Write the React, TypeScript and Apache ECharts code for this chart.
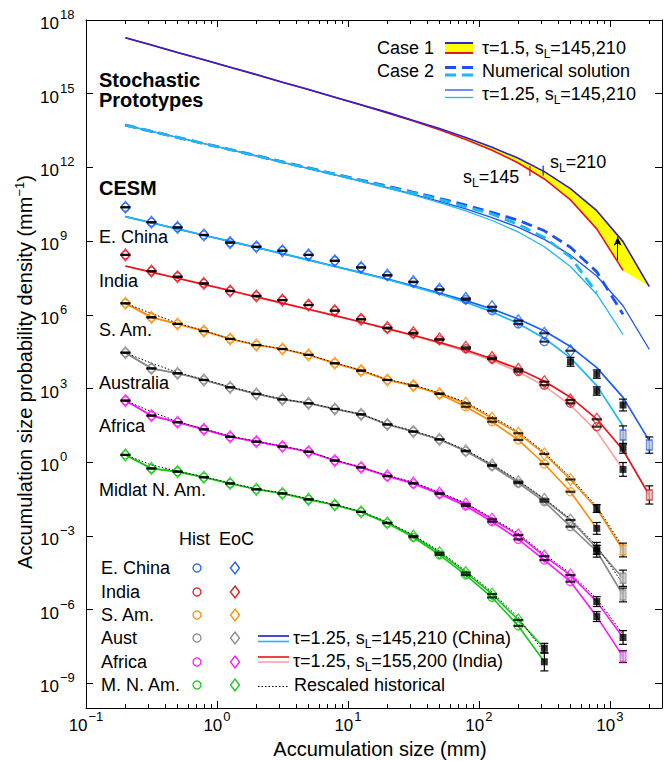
import React, { useEffect, useRef } from "react";
import * as echarts from "echarts";

const FONT = "'Liberation Sans', Arial, Helvetica, sans-serif";

// ---------------- data (densities stored as log10 values) ----------------
const binCenters = [0.2, 0.316, 0.5, 0.794, 1.26, 2, 3.16, 5, 7.94, 12.6, 20, 31.6, 50, 79.4, 126, 200, 316, 500, 794, 1260, 2000];

const xMajorTicks = [0.1, 1, 10, 100, 1000];
const xMinorTicks = [0.2, 0.3, 0.4, 0.5, 0.6, 0.7, 0.8, 0.9, 2, 3, 4, 5, 6, 7, 8, 9, 20, 30, 40, 50, 60, 70, 80, 90, 200, 300, 400, 500, 600, 700, 800, 900, 2000];
const yMajorTicks = [1e-9, 1e-6, 1e-3, 1, 1e3, 1e6, 1e9, 1e12, 1e15, 1e18];

// Stochastic prototypes
const case1_sL210 = [17.28, 16.98, 16.68, 16.38, 16.08, 15.78, 15.47, 15.17, 14.86, 14.55, 14.24, 13.91, 13.58, 13.22, 12.82, 12.37, 11.83, 11.14, 10.24, 8.98, 7.15];
const case1_sL145 = [17.28, 16.98, 16.68, 16.38, 16.08, 15.77, 15.47, 15.17, 14.86, 14.54, 14.22, 13.89, 13.53, 13.14, 12.70, 12.18, 11.53, 10.68, 9.50, 7.81];
const numerical_sL210 = [13.72, 13.47, 13.22, 12.97, 12.73, 12.48, 12.23, 11.98, 11.73, 11.48, 11.24, 10.99, 10.74, 10.47, 10.17, 9.85, 9.42, 8.75, 7.75, 6.02];
const numerical_sL145 = [13.72, 13.47, 13.22, 12.97, 12.72, 12.47, 12.22, 11.97, 11.72, 11.46, 11.21, 10.96, 10.70, 10.40, 10.10, 9.68, 9.15, 8.35, 6.90];
const tau125_sL210 = [13.72, 13.47, 13.22, 12.97, 12.72, 12.47, 12.21, 11.96, 11.70, 11.44, 11.18, 10.90, 10.62, 10.31, 9.96, 9.56, 9.07, 8.43, 7.58, 6.37, 4.59];
const tau125_sL145 = [13.72, 13.47, 13.22, 12.97, 12.72, 12.46, 12.21, 11.95, 11.70, 11.43, 11.16, 10.88, 10.57, 10.23, 9.84, 9.37, 8.77, 7.97, 6.84, 5.20];
const sLMarks = [
  { x: 245, v: 11.85, which: "145" },
  { x: 310, v: 11.87, which: "210" },
];
const arrowX = 1146;
const arrowFrom = 8.23;
const arrowTo = 9.18;

// CESM: E. China
const chinaEoC = [10.38, 9.77, 9.56, 9.25, 8.94, 8.77, 8.61, 8.44, 8.20, 7.93, 7.62, 7.35, 7.04, 6.67, 6.33, 5.76, 5.25, 4.54];
const chinaHist = [10.38, 9.77, 9.56, 9.25, 8.94, 8.77, 8.61, 8.44, 8.20, 7.93, 7.60, 7.33, 7.02, 6.62, 6.17, 5.63, 4.91];
const chinaTail: any[] = [
  [500, 4.09, 0.18, "hist", "filled"],
  [794, 3.59, 0.17, "eoc", "filled"],
  [794, 2.90, 0.17, "hist", "filled"],
  [1260, 2.33, 0.24, "eoc", "filled"],
  [1260, 1.11, 0.37, "hist", "open"],
  [2000, 0.70, 0.33, "eoc", "open"],
];
const chinaFit210 = [10.00, 9.75, 9.50, 9.24, 8.99, 8.74, 8.49, 8.24, 7.98, 7.72, 7.46, 7.18, 6.89, 6.58, 6.24, 5.83, 5.34, 4.71, 3.85, 2.64, 0.87];
const chinaFit145 = [10.00, 9.75, 9.49, 9.24, 8.99, 8.74, 8.49, 8.23, 7.97, 7.71, 7.44, 7.15, 6.85, 6.51, 6.12, 5.65, 5.05, 4.25, 3.12, 1.48];

// India
const indiaEoC = [8.44, 7.78, 7.55, 7.28, 6.97, 6.77, 6.60, 6.40, 6.17, 5.82, 5.48, 5.27, 5.02, 4.68, 4.26, 3.78, 3.28, 2.53, 1.75];
const indiaHist = [8.44, 7.78, 7.55, 7.28, 6.97, 6.77, 6.60, 6.40, 6.17, 5.82, 5.46, 5.24, 4.98, 4.62, 4.20, 3.69, 3.14, 2.40, 1.45];
const indiaTail: any[] = [
  [1260, 0.57, 0.2, "eoc", "filled"],
  [1260, -0.29, 0.28, "hist", "filled"],
  [2000, -1.33, 0.37, "eoc", "open"],
];
const indiaFit200 = [7.99, 7.74, 7.49, 7.24, 6.99, 6.73, 6.48, 6.23, 5.97, 5.71, 5.44, 5.17, 4.88, 4.57, 4.21, 3.80, 3.30, 2.65, 1.76, 0.50, -1.34];
const indiaFit155 = [7.99, 7.74, 7.49, 7.24, 6.98, 6.73, 6.48, 6.22, 5.97, 5.70, 5.43, 5.15, 4.85, 4.52, 4.14, 3.68, 3.10, 2.33, 1.26, -0.29];

// S. Am.
const samEoC = [6.47, 5.90, 5.63, 5.34, 5.02, 4.77, 4.61, 4.37, 4.03, 3.73, 3.35, 3.12, 2.80, 2.40, 1.79, 1.18, 0.34, -0.70];
const samHist = [6.47, 5.90, 5.63, 5.34, 5.02, 4.77, 4.61, 4.37, 4.03, 3.73, 3.35, 3.12, 2.78, 2.26, 1.65, 0.91, -0.07, -1.20];
const samTail: any[] = [
  [794, -1.88, 0.16, "eoc", "filled"],
  [794, -2.69, 0.24, "hist", "filled"],
  [1260, -3.57, 0.28, "eoc", "open"],
];
const samRescaled = [6.47, 6.06, 5.66, 5.36, 5.03, 4.79, 4.62, 4.38, 4.05, 3.75, 3.37, 3.14, 2.82, 2.45, 1.86, 1.24, 0.40, -0.62, -1.80, -3.45];

// Australia
const austEoC = [4.46, 3.82, 3.62, 3.35, 3.05, 2.78, 2.56, 2.40, 2.17, 1.95, 1.54, 1.25, 0.93, 0.47, -0.11, -0.79, -1.51, -2.35];
const austHist = [4.46, 3.82, 3.62, 3.35, 3.05, 2.78, 2.56, 2.40, 2.17, 1.95, 1.54, 1.25, 0.93, 0.45, -0.15, -0.85, -1.60, -2.62];
const austTail: any[] = [
  [794, -3.50, 0.24, "eoc", "filled"],
  [794, -3.62, 0.24, "hist", "filled"],
  [1260, -4.72, 0.33, "eoc", "open"],
  [1260, -5.40, 0.28, "hist", "open"],
];
const austRescaled = [4.46, 4.03, 3.66, 3.37, 3.07, 2.80, 2.57, 2.41, 2.18, 1.96, 1.56, 1.27, 0.95, 0.50, -0.08, -0.74, -1.48, -2.30, -3.40, -4.95];

// Africa
const africaEoC = [2.51, 1.90, 1.63, 1.34, 1.04, 0.84, 0.64, 0.43, 0.07, -0.21, -0.55, -0.84, -1.25, -1.70, -2.32, -2.96, -3.82, -4.59];
const africaHist = [2.51, 1.90, 1.63, 1.34, 1.04, 0.84, 0.64, 0.43, 0.07, -0.21, -0.57, -0.87, -1.29, -1.78, -2.42, -3.14, -3.98, -4.86];
const africaTail: any[] = [
  [794, -5.67, 0.2, "eoc", "filled"],
  [794, -6.28, 0.2, "hist", "filled"],
  [1260, -7.13, 0.28, "eoc", "filled"],
  [1260, -7.91, 0.24, "hist", "open"],
];
const africaRescaled = [2.51, 2.06, 1.66, 1.36, 1.06, 0.86, 0.66, 0.45, 0.09, -0.19, -0.53, -0.81, -1.22, -1.66, -2.27, -2.90, -3.75, -4.52, -5.55, -7.00];

// Midlat N. Am.
const mnamEoC = [0.30, -0.25, -0.38, -0.61, -0.86, -1.10, -1.27, -1.51, -1.74, -2.02, -2.46, -3.00, -3.68, -4.49, -5.36, -6.42];
const mnamHist = [0.30, -0.25, -0.38, -0.61, -0.86, -1.10, -1.27, -1.51, -1.74, -2.02, -2.48, -3.05, -3.77, -4.59, -5.50, -6.66];
const mnamTail: any[] = [
  [316, -7.57, 0.2, "eoc", "filled"],
  [316, -8.12, 0.37, "hist", "filled"],
];
const mnamRescaled = [0.30, -0.11, -0.36, -0.59, -0.84, -1.08, -1.25, -1.49, -1.72, -2.00, -2.43, -2.96, -3.62, -4.42, -5.28, -6.32, -7.75];

// ---------------- styling ----------------
const C_CASE1_BLUE = "#2a22cc";
const C_RED = "#e8141c";
const C_PROTO_BLUE = "#1d52ee";
const C_PROTO_CYAN = "#1fb6f2";
const C_CHINA = "#1a5cff";
const C_CHINA_L = "#1ab8f5";
const C_INDIA = "#e8141c";
const C_INDIA_L = "#f5a5a5";
const C_SAM = "#ff8c00";
const C_AUST = "#888888";
const C_AFRICA = "#ff14ff";
const C_MNAM = "#12c812";

const p10 = (v: number) => Math.pow(10, v);
const pts = (vals: number[]) => vals.map((v, i) => [binCenters[i], p10(v)]);

const supText = (v: number) => {
  const e = Math.round(Math.log10(v));
  return `{b|10}{s|${e < 0 ? "\u2212" + -e : e}}`;
};
const tickRich = {
  b: { fontSize: 17, fontFamily: FONT, color: "#000", lineHeight: 18, verticalAlign: "bottom" },
  s: { fontSize: 13, fontFamily: FONT, color: "#000", lineHeight: 13, verticalAlign: "bottom", padding: [0, 0, 11, 1] },
};

const lineSeries = (data: any[], color: string, width: number, z: number, type: any = "solid") => ({
  type: "line",
  data,
  symbol: "none",
  showSymbol: false,
  silent: true,
  z,
  lineStyle: { color, width, type, cap: "butt" },
});

const scatterSeries = (data: any[], symbol: string, size: any, itemStyle: any, z: number) => ({
  type: "scatter",
  data,
  symbol,
  symbolSize: size,
  itemStyle,
  silent: true,
  z,
});

const hollow = (c: string) => ({ color: "rgba(255,255,255,0)", borderColor: c, borderWidth: 1.3 });

const errorBarSeries = (tail: any[]) => ({
  type: "custom",
  silent: true,
  z: 6,
  data: tail.map((t) => [t[0], p10(t[1] - t[2]), p10(t[1] + t[2])]),
  encode: { x: 0, y: [1, 2] },
  renderItem: (params: any, api: any) => {
    const x = api.value(0);
    const lo = api.coord([x, api.value(1)]);
    const hi = api.coord([x, api.value(2)]);
    const w = 4;
    const st = { stroke: "#000", lineWidth: 1.2 };
    return {
      type: "group",
      children: [
        { type: "line", shape: { x1: lo[0], y1: lo[1], x2: hi[0], y2: hi[1] }, style: st },
        { type: "line", shape: { x1: lo[0] - w, y1: lo[1], x2: lo[0] + w, y2: lo[1] }, style: st },
        { type: "line", shape: { x1: hi[0] - w, y1: hi[1], x2: hi[0] + w, y2: hi[1] }, style: st },
      ],
    };
  },
});

function buildOption() {
  const regions = [
    { color: C_CHINA, eoc: chinaEoC, hist: chinaHist, tail: chinaTail, fits: [[chinaFit210, C_CHINA], [chinaFit145, C_CHINA_L]], rescaled: null as any },
    { color: C_INDIA, eoc: indiaEoC, hist: indiaHist, tail: indiaTail, fits: [[indiaFit155, C_INDIA_L], [indiaFit200, C_INDIA]], rescaled: null as any },
    { color: C_SAM, eoc: samEoC, hist: samHist, tail: samTail, fits: null as any, rescaled: samRescaled },
    { color: C_AUST, eoc: austEoC, hist: austHist, tail: austTail, fits: null as any, rescaled: austRescaled },
    { color: C_AFRICA, eoc: africaEoC, hist: africaHist, tail: africaTail, fits: null as any, rescaled: africaRescaled },
    { color: C_MNAM, eoc: mnamEoC, hist: mnamHist, tail: mnamTail, fits: null as any, rescaled: mnamRescaled },
  ];

  const series: any[] = [];

  // yellow band between the two Case 1 curves
  series.push({
    type: "custom",
    silent: true,
    z: 1,
    data: [[binCenters[0], p10(case1_sL210[0])]],
    encode: { x: 0, y: 1 },
    renderItem: (params: any, api: any) => {
      const upper = case1_sL210.map((v, i) => api.coord([binCenters[i], p10(v)]));
      const lower = case1_sL145.map((v, i) => api.coord([binCenters[i], p10(v)])).reverse();
      return { type: "polygon", shape: { points: upper.concat(lower) }, style: { fill: "#ffff00", stroke: "none" } };
    },
  });
  series.push(lineSeries(pts(case1_sL145), C_RED, 1.6, 2));
  const case1Blue: any = lineSeries(pts(case1_sL210), C_CASE1_BLUE, 1.6, 2);
  case1Blue.markLine = {
    silent: true,
    symbol: ["none", "arrow"],
    symbolSize: [6, 9],
    label: { show: false },
    lineStyle: { color: "#000", width: 1, type: "solid" },
    data: [[{ coord: [arrowX, p10(arrowFrom)] }, { coord: [arrowX, p10(arrowTo)] }]],
  };
  series.push(case1Blue);
  sLMarks.forEach((m) =>
    series.push(scatterSeries([[m.x, p10(m.v)]], "rect", [1.6, 10], { color: m.which === "145" ? C_RED : C_CASE1_BLUE }, 3))
  );
  series.push(lineSeries(pts(tau125_sL210), C_PROTO_BLUE, 1.3, 2));
  series.push(lineSeries(pts(tau125_sL145), C_PROTO_CYAN, 1.3, 2));
  series.push(lineSeries(pts(numerical_sL210), C_PROTO_BLUE, 2.8, 2, [11, 6]));
  series.push(lineSeries(pts(numerical_sL145), C_PROTO_CYAN, 2.8, 2, [11, 6]));

  // CESM regions
  for (const r of regions) {
    const tailPts = (set: string) => r.tail.filter((t: any) => t[3] === set).map((t: any) => [t[0], p10(t[1])]);
    if (r.fits) {
      r.fits.forEach(([vals, c]: any) => series.push(lineSeries(pts(vals), c, 1.7, 3)));
    } else {
      series.push(lineSeries(pts(r.hist).concat(tailPts("hist")), r.color, 1.6, 3));
      series.push(lineSeries(pts(r.eoc).concat(tailPts("eoc")), r.color, 1.6, 3));
      series.push(lineSeries(pts(r.rescaled), "#000", 1, 3.5, [1.5, 2]));
    }
    series.push(scatterSeries(pts(r.hist), "circle", 8, hollow(r.color), 4));
    series.push(scatterSeries(pts(r.eoc), "diamond", [9, 12], hollow(r.color), 4));
    series.push(scatterSeries(pts(r.eoc).concat(pts(r.hist)), "rect", [10, 2.2], { color: "#000" }, 5));
    series.push(errorBarSeries(r.tail));
    series.push(
      scatterSeries(
        r.tail.filter((t: any) => t[4] === "filled").map((t: any) => [t[0], p10(t[1])]),
        "rect", 7, { color: "#000" }, 7
      )
    );
    series.push(
      scatterSeries(
        r.tail.filter((t: any) => t[4] === "open").map((t: any) => [t[0], p10(t[1])]),
        "rect", [6, 10], { color: "#c4c4c4", borderColor: r.color, borderWidth: 1.2 }, 7
      )
    );
  }

  const baseX = { type: "log", logBase: 10, min: 0.1, max: 2500, gridIndex: 0, splitLine: { show: false } };
  const baseY = { type: "log", logBase: 10, min: 1e-10, max: 1.00001e18, gridIndex: 0, splitLine: { show: false } };
  const axLine = { show: true, onZero: false, lineStyle: { color: "#000", width: 1 } };
  const noLine = { show: false, onZero: false };

  const xAxis = [
    {
      ...baseX, position: "bottom", axisLine: axLine,
      axisTick: { show: true, inside: true, length: 7, customValues: xMajorTicks, lineStyle: { color: "#000" } },
      axisLabel: { show: true, customValues: xMajorTicks, margin: 8, formatter: supText, rich: tickRich },
    },
    {
      ...baseX, position: "top", axisLine: axLine,
      axisTick: { show: true, inside: true, length: 7, customValues: xMajorTicks, lineStyle: { color: "#000" } },
      axisLabel: { show: false },
    },
    {
      ...baseX, position: "bottom", axisLine: noLine,
      axisTick: { show: true, inside: true, length: 4, customValues: xMinorTicks, lineStyle: { color: "#000" } },
      axisLabel: { show: false },
    },
    {
      ...baseX, position: "top", axisLine: noLine,
      axisTick: { show: true, inside: true, length: 4, customValues: xMinorTicks, lineStyle: { color: "#000" } },
      axisLabel: { show: false },
    },
  ];
  const yAxis = [
    {
      ...baseY, position: "left", axisLine: axLine,
      axisTick: { show: true, inside: true, length: 7, customValues: yMajorTicks, lineStyle: { color: "#000" } },
      axisLabel: { show: true, customValues: yMajorTicks, margin: 46, align: "left", formatter: supText, rich: tickRich, padding: [6, 0, 0, 0], showMaxLabel: true, showMinLabel: true },
    },
    {
      ...baseY, position: "right", axisLine: axLine,
      axisTick: { show: true, inside: true, length: 7, customValues: yMajorTicks, lineStyle: { color: "#000" } },
      axisLabel: { show: false },
    },
  ];

  const txt = (text: string, x: number, y: number, opts: any = {}) => ({
    type: "text",
    x,
    y,
    silent: true,
    z: 100,
    style: {
      text,
      fill: "#000",
      font: `${opts.bold ? "bold " : ""}${opts.size || 18}px ${FONT}`,
      textAlign: opts.align || "left",
      textVerticalAlign: "middle",
      rich: opts.rich,
    },
  });
  const legRich = {
    n: { fontSize: 18, fontFamily: FONT, color: "#000", lineHeight: 24, verticalAlign: "middle" },
    sub: { fontSize: 12, fontFamily: FONT, color: "#000", lineHeight: 12, verticalAlign: "bottom" },
  };
  const rtxt = (text: string, x: number, y: number) => txt(text, x, y, { rich: legRich });
  const seg = (x1: number, y1: number, x2: number, y2: number, stroke: string, lineWidth: number, lineDash?: any) => ({
    type: "line",
    silent: true,
    z: 100,
    shape: { x1, y1, x2, y2 },
    style: { stroke, lineWidth, lineDash },
  });

  const graphic: any[] = [
    // region labels
    txt("Stochastic", 99, 80, { bold: true, size: 20 }),
    txt("Prototypes", 99, 100, { bold: true, size: 20 }),
    txt("CESM", 99, 188, { bold: true, size: 20 }),
    txt("E. China", 99, 237),
    txt("India", 99, 281),
    txt("S. Am.", 99, 330),
    txt("Australia", 99, 383),
    txt("Africa", 99, 426),
    txt("Midlat N. Am.", 99, 490),
    // sL labels
    rtxt("{n|s}{sub|L}{n|=145}", 463, 177),
    rtxt("{n|s}{sub|L}{n|=210}", 550, 162),
    // top right legend
    txt("Case 1", 434, 48, { align: "right" }),
    { type: "rect", silent: true, z: 100, shape: { x: 445, y: 43, width: 28, height: 10 }, style: { fill: "#ffff00" } },
    seg(445, 43, 473, 43, C_CASE1_BLUE, 2),
    seg(445, 53, 473, 53, C_RED, 2),
    rtxt("{n|\u03c4=1.5, s}{sub|L}{n|=145,210}", 482, 48),
    txt("Case 2", 434, 71, { align: "right" }),
    seg(445, 67.5, 473, 67.5, C_PROTO_BLUE, 2.8, [11, 6]),
    seg(445, 75, 473, 75, C_PROTO_CYAN, 2.8, [11, 6]),
    txt("Numerical solution", 482, 71),
    seg(445, 90, 473, 90, C_PROTO_BLUE, 1.3),
    seg(445, 97.5, 473, 97.5, C_PROTO_CYAN, 1.3),
    rtxt("{n|\u03c4=1.25, s}{sub|L}{n|=145,210}", 482, 94),
    // bottom left legend
    txt("Hist", 179, 539),
    txt("EoC", 219, 539),
    // bottom right legend
    seg(258, 636, 289, 636, "#1020d0", 1.6),
    seg(258, 641.5, 289, 641.5, C_CHINA_L, 1.6),
    rtxt("{n|\u03c4=1.25, s}{sub|L}{n|=145,210 (China)}", 293, 638),
    seg(258, 657, 289, 657, C_INDIA, 1.6),
    seg(258, 662, 289, 662, C_INDIA_L, 1.6),
    rtxt("{n|\u03c4=1.25, s}{sub|L}{n|=155,200 (India)}", 293, 661),
    seg(258, 686.5, 289, 686.5, "#000", 1, [1.5, 2]),
    txt("Rescaled historical", 294, 685),
    // axis titles
    {
      type: "text", silent: true, z: 100, x: 380, y: 749,
      style: { text: "Accumulation size (mm)", fill: "#000", font: `20px ${FONT}`, textAlign: "center", textVerticalAlign: "middle" },
    },
    {
      type: "text", silent: true, z: 100, x: 24, y: 372, rotation: Math.PI / 2,
      style: {
        text: "{t|Accumulation size probability density (mm}{s|\u22121}{t|)}",
        fill: "#000",
        font: `20px ${FONT}`,
        textAlign: "center",
        textVerticalAlign: "middle",
        rich: {
          t: { fontSize: 20, fontFamily: FONT, color: "#000", lineHeight: 22, verticalAlign: "bottom" },
          s: { fontSize: 13, fontFamily: FONT, color: "#000", lineHeight: 13, verticalAlign: "bottom", padding: [0, 0, 9, 0] },
        },
      },
    },
  ];

  const legRows = [
    { label: "E. China", color: C_CHINA, y: 568 },
    { label: "India", color: C_INDIA, y: 592 },
    { label: "S. Am.", color: C_SAM, y: 615 },
    { label: "Aust", color: C_AUST, y: 638 },
    { label: "Africa", color: C_AFRICA, y: 662 },
    { label: "M. N. Am.", color: C_MNAM, y: 685 },
  ];
  legRows.forEach((r) => {
    graphic.push(txt(r.label, 101, r.y));
    graphic.push({ type: "circle", silent: true, z: 100, shape: { cx: 197, cy: r.y, r: 4 }, style: { fill: "none", stroke: r.color, lineWidth: 1.3 } });
    graphic.push({
      type: "polygon", silent: true, z: 100,
      shape: { points: [[235, r.y - 6], [239.5, r.y], [235, r.y + 6], [230.5, r.y]] },
      style: { fill: "none", stroke: r.color, lineWidth: 1.3 },
    });
  });

  return {
    animation: false,
    backgroundColor: "#fff",
    grid: { left: 86, top: 20, width: 576, height: 688, containLabel: false },
    xAxis,
    yAxis,
    series,
    graphic,
  };
}

export default function App() {
  const ref = useRef<HTMLDivElement>(null);
  useEffect(() => {
    const chart = echarts.init(ref.current as HTMLDivElement, null, { renderer: "svg" });
    chart.setOption(buildOption() as any);
    return () => chart.dispose();
  }, []);
  return (
    <div
      ref={ref}
      style={{ position: "fixed", left: 0, top: 0, width: 664, height: 761, background: "#fff" }}
    />
  );
}
